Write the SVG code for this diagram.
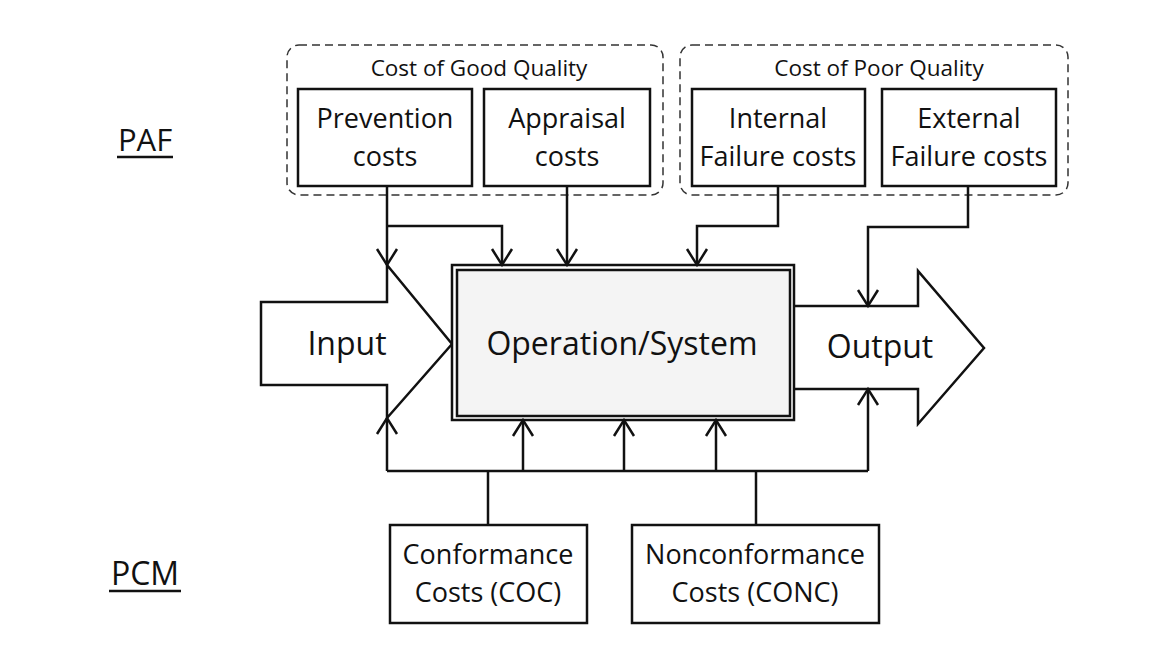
<svg xmlns="http://www.w3.org/2000/svg" width="1170" height="658" viewBox="0 0 1170 658">
<style>
text{font-family:"Open Sans","Noto Sans","Liberation Sans",sans-serif;fill:#111;text-anchor:middle}
.box{fill:#fff;stroke:#111;stroke-width:2.5}
.grp{fill:none;stroke:#333;stroke-width:1.5;stroke-dasharray:8 5}
.ln{fill:none;stroke:#111;stroke-width:2.5}
.t{font-size:27px}
.g{font-size:22.5px}
.big{font-size:32px}
</style>
<defs>
<marker id="ah" markerUnits="userSpaceOnUse" markerWidth="20" markerHeight="24" viewBox="-18 -12 20 24" refX="0" refY="0" orient="auto" overflow="visible">
<path d="M-16,-10 L0,0 L-16,10" fill="none" stroke="#111" stroke-width="2.5"/>
</marker>
</defs>
<rect width="1170" height="658" fill="#fff"/>
<g id="paf"><text x="145" y="151" style="font-size:31px">PAF</text><line x1="117" y1="157" x2="173" y2="157" stroke="#111" stroke-width="2.5"/></g>
<g id="pcm"><text x="145" y="585" style="font-size:32px">PCM</text><line x1="109" y1="591" x2="181" y2="591" stroke="#111" stroke-width="2.5"/></g>
<g id="good-quality"><rect class="grp" x="287" y="45" width="376" height="150" rx="12"/><text class="g" x="479" y="76">Cost of Good Quality</text></g>
<g id="poor-quality"><rect class="grp" x="680" y="45" width="388" height="150" rx="12"/><text class="g" x="879" y="76">Cost of Poor Quality</text></g>
<g id="prevention"><rect class="box" x="298" y="89" width="174" height="97"/><text class="t" x="385" y="128">Prevention</text><text class="t" x="385" y="166">costs</text></g>
<g id="appraisal"><rect class="box" x="484" y="89" width="166" height="97"/><text class="t" x="567" y="128">Appraisal</text><text class="t" x="567" y="166">costs</text></g>
<g id="internal"><rect class="box" x="692" y="89" width="173" height="97"/><text class="t" x="778" y="128">Internal</text><text class="t" x="778" y="166">Failure costs</text></g>
<g id="external"><rect class="box" x="882" y="89" width="174" height="97"/><text class="t" x="969" y="128">External</text><text class="t" x="969" y="166">Failure costs</text></g>
<g id="input"><path class="ln" d="M261,302 H387 V265 L452,344 L387,418 V385 H261 Z" fill="#fff"/><text class="big" x="347" y="355">Input</text></g>
<g id="output"><path class="ln" d="M794,306 H918 V271 L984,348 L918,424 V389 H794" fill="#fff"/><text class="big" x="880" y="358">Output</text></g>
<g id="operation"><rect x="452" y="265" width="342" height="155" fill="#fff" stroke="#111" stroke-width="2.5"/><rect x="457" y="270" width="333" height="146" fill="#f4f4f4" stroke="#111" stroke-width="2.5"/><text x="622" y="355" style="font-size:32px">Operation/System</text></g>
<g id="coc"><rect class="box" x="390" y="525" width="197" height="98"/><text class="t" x="488" y="564">Conformance</text><text class="t" x="488" y="602">Costs (COC)</text></g>
<g id="conc"><rect class="box" x="632" y="525" width="247" height="98"/><text class="t" x="755" y="564">Nonconformance</text><text class="t" x="755" y="602">Costs (CONC)</text></g>
<g id="connectors">
<path class="ln" d="M387,186 V265" marker-end="url(#ah)"/>
<path class="ln" d="M387,226 H502 V265" marker-end="url(#ah)"/>
<path class="ln" d="M567,186 V265" marker-end="url(#ah)"/>
<path class="ln" d="M778,186 V226 H697 V265" marker-end="url(#ah)"/>
<path class="ln" d="M968,186 V227 H868 V306" marker-end="url(#ah)"/>
<path class="ln" d="M387,471 H868"/>
<path class="ln" d="M387,471 V418" marker-end="url(#ah)"/>
<path class="ln" d="M523,471 V420" marker-end="url(#ah)"/>
<path class="ln" d="M624,471 V420" marker-end="url(#ah)"/>
<path class="ln" d="M716,471 V420" marker-end="url(#ah)"/>
<path class="ln" d="M868,471 V389" marker-end="url(#ah)"/>
<path class="ln" d="M488,525 V471"/>
<path class="ln" d="M756,525 V471"/>
</g>
</svg>
